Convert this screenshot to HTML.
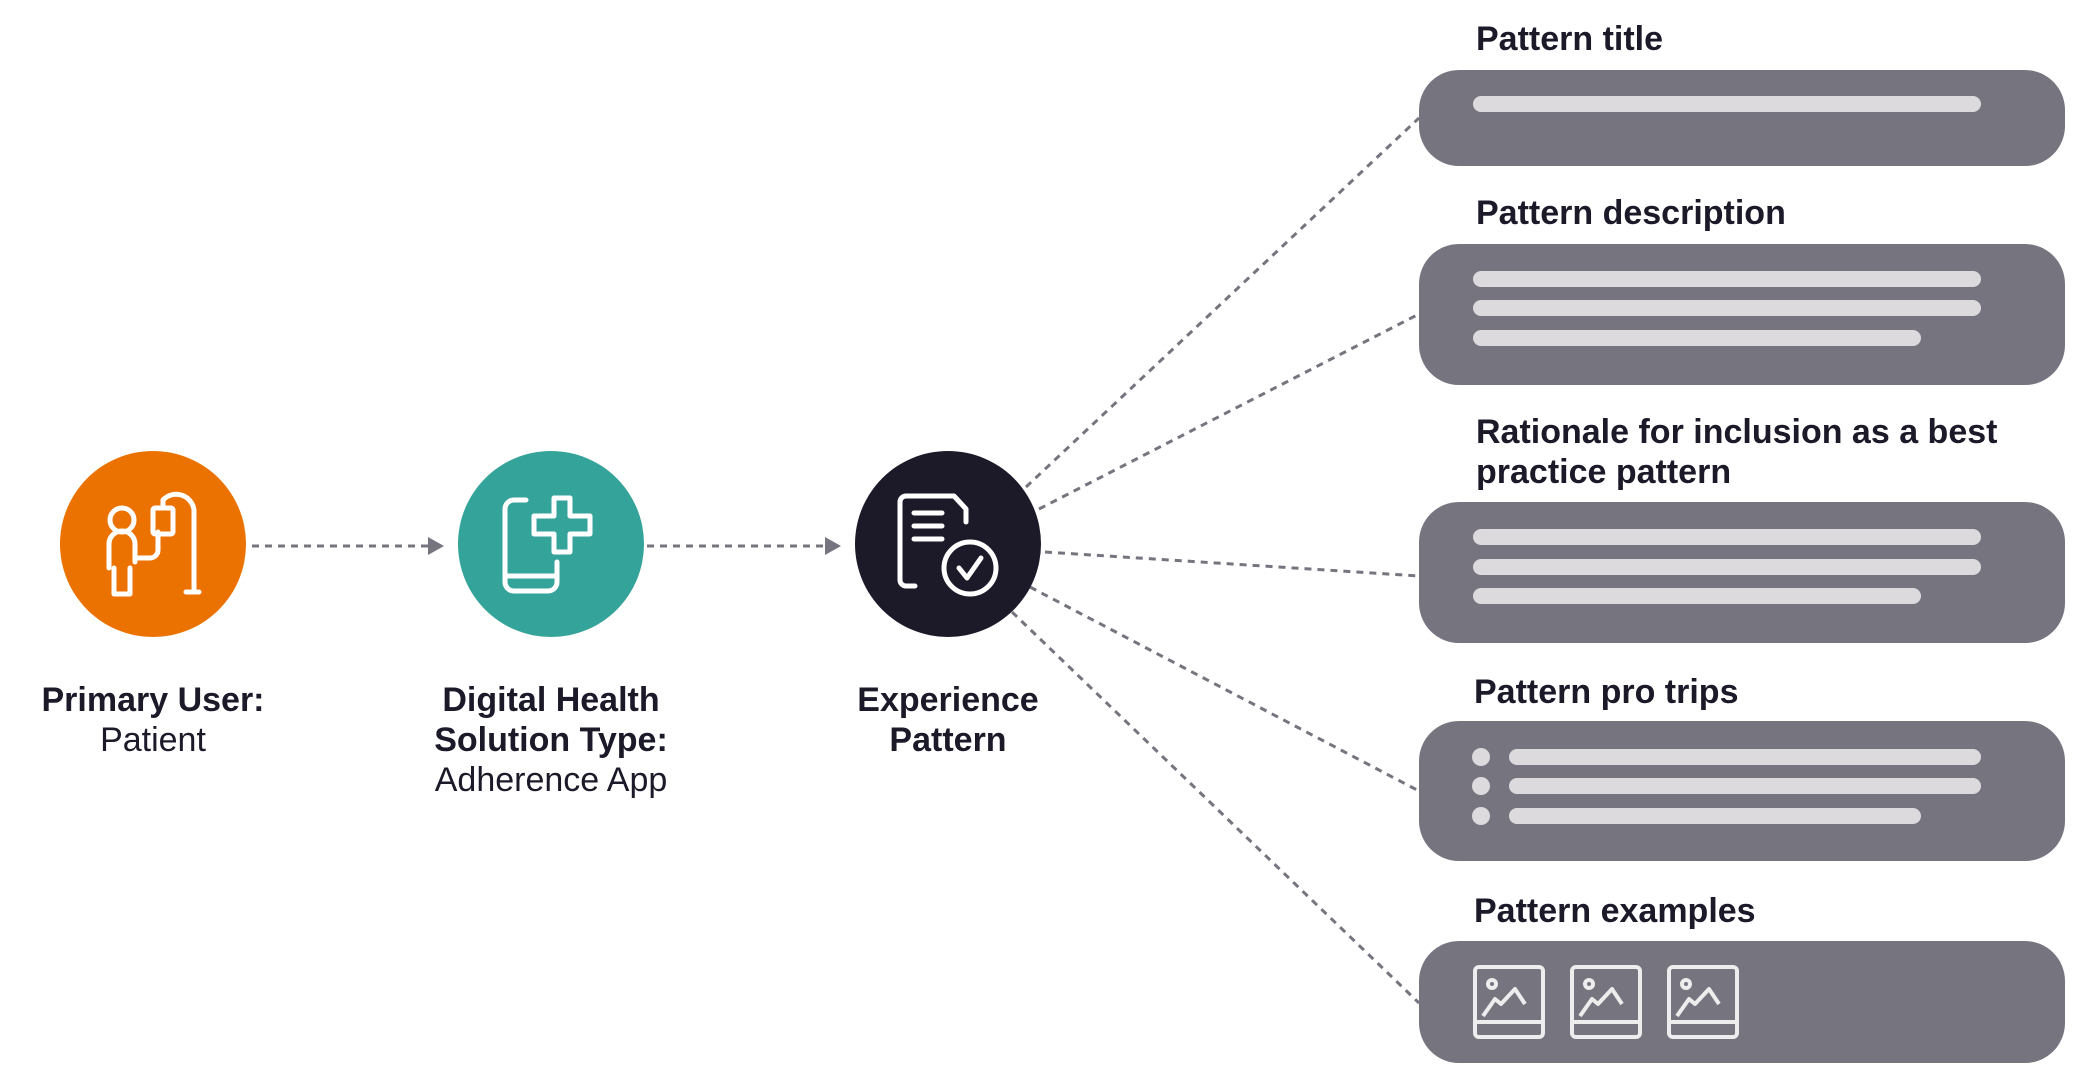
<!DOCTYPE html>
<html><head><meta charset="utf-8"><style>
html,body{margin:0;padding:0;background:#fff;}
body{width:2100px;height:1077px;overflow:hidden;position:relative;font-family:"Liberation Sans",sans-serif;color:#1C1929;}
.t{position:absolute;font-size:34px;line-height:40px;white-space:nowrap;}
.b{font-weight:bold;}
.c{text-align:center;width:400px;}
</style></head><body>
<svg width="2100" height="1077" style="position:absolute;left:0;top:0">
<g stroke="#76747F" stroke-width="3" stroke-dasharray="7 6" fill="none">
<line x1="252" y1="546" x2="430" y2="546"/>
<line x1="647" y1="546" x2="827" y2="546"/>
<line x1="1026" y1="487" x2="1419" y2="118"/>
<line x1="1039" y1="509" x2="1419" y2="314"/>
<line x1="1045" y1="552" x2="1419" y2="576"/>
<line x1="1030" y1="587" x2="1419" y2="791"/>
<line x1="1012" y1="612" x2="1419" y2="1003"/>
</g>
<polygon points="428,537 444,546 428,555" fill="#76747F"/>
<polygon points="825,537 841,546 825,555" fill="#76747F"/>
<circle cx="153" cy="544" r="93" fill="#EC7200"/>
<circle cx="551" cy="544" r="93" fill="#34A39A"/>
<circle cx="948" cy="544" r="93" fill="#1C1929"/>
<g stroke="#fff" stroke-width="5" fill="none" stroke-linecap="round" stroke-linejoin="round">
<circle cx="122" cy="520" r="12"/>
<path d="M109 568 V544 a13 13 0 0 1 26 0 V562 M114 568 V594 H130 V568"/>
<path d="M135 558 H150 a8 8 0 0 0 8 -8 V532"/>
<rect x="153" y="508" width="20" height="26" rx="2"/>
<path d="M163 508 V500 a18 18 0 0 1 31 10 V592 M186 592 H199"/>
<path d="M526 500 H514 a9 9 0 0 0 -9 9 V582 a9 9 0 0 0 9 9 H548 a9 9 0 0 0 9 -9 V562 M505 576 H557"/>
<path d="M556 498 H570 V516 H590 V534 H570 V552 H554 V534 H534 V516 H554 V498 Z"/>
<path d="M915 586 H906 a6 6 0 0 1 -6 -6 V502 a6 6 0 0 1 6 -6 H954 L966 509 V522"/>
<line x1="914" y1="513" x2="942" y2="513"/><line x1="914" y1="526" x2="942" y2="526"/><line x1="914" y1="539" x2="942" y2="539"/>
<circle cx="970" cy="568" r="26"/>
<path d="M959 568 L967 578 L981 558"/>
</g>
<g fill="#76747F">
<rect x="1427" y="70" width="646" height="96" rx="40" transform="translate(-8 0)"/>
<rect x="1427" y="244" width="646" height="141" rx="40" transform="translate(-8 0)"/>
<rect x="1427" y="502" width="646" height="141" rx="40" transform="translate(-8 0)"/>
<rect x="1427" y="721" width="646" height="140" rx="40" transform="translate(-8 0)"/>
<rect x="1427" y="941" width="646" height="122" rx="40" transform="translate(-8 0)"/>
</g>
<g transform="translate(-8 0)">
<g stroke="#DCDADD" stroke-width="16" stroke-linecap="round">
<line x1="1489" y1="104" x2="1981" y2="104"/>
<line x1="1489" y1="279" x2="1981" y2="279"/>
<line x1="1489" y1="308" x2="1981" y2="308"/>
<line x1="1489" y1="338" x2="1921" y2="338"/>
<line x1="1489" y1="537" x2="1981" y2="537"/>
<line x1="1489" y1="567" x2="1981" y2="567"/>
<line x1="1489" y1="596" x2="1921" y2="596"/>
<line x1="1525" y1="757" x2="1981" y2="757"/>
<line x1="1525" y1="786" x2="1981" y2="786"/>
<line x1="1525" y1="816" x2="1921" y2="816"/>
</g>
<g fill="#DCDADD"><circle cx="1489" cy="757" r="9"/><circle cx="1489" cy="786" r="9"/><circle cx="1489" cy="816" r="9"/></g>
<g stroke="#EDEDED" stroke-width="4" fill="none" stroke-linejoin="round">
<g id="im"><rect x="1483" y="967" width="68" height="70" rx="4"/><line x1="1483" y1="1022" x2="1551" y2="1022"/><circle cx="1500" cy="984" r="4"/><path d="M1491 1016 L1503 999 L1509 1004 L1523 989 L1533 1004"/></g>
<use href="#im" x="97"/><use href="#im" x="194"/>
</g>
</g>
</svg>
<div class="t b c" style="left:-47px;top:680px">Primary User:</div>
<div class="t c" style="left:-47px;top:720px">Patient</div>
<div class="t b c" style="left:351px;top:680px">Digital Health</div>
<div class="t b c" style="left:351px;top:720px">Solution Type:</div>
<div class="t c" style="left:351px;top:760px">Adherence App</div>
<div class="t b c" style="left:748px;top:680px">Experience</div>
<div class="t b c" style="left:748px;top:720px">Pattern</div>
<div class="t b" style="left:1476px;top:19px">Pattern title</div>
<div class="t b" style="left:1476px;top:193px">Pattern description</div>
<div class="t b" style="left:1476px;top:412px">Rationale for inclusion as a best</div>
<div class="t b" style="left:1476px;top:452px">practice pattern</div>
<div class="t b" style="left:1474px;top:672px">Pattern pro trips</div>
<div class="t b" style="left:1474px;top:891px">Pattern examples</div>
</body></html>
